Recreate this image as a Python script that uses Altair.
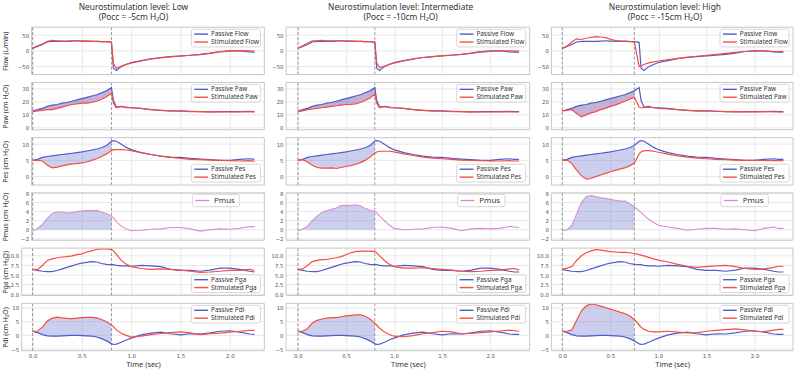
import altair as alt
import pandas as pd

# ---------------------------------------------------------------- data
T = [0.0, 0.05, 0.1, 0.15, 0.2, 0.25, 0.3, 0.35, 0.4, 0.45, 0.5, 0.55, 0.6, 0.65,
     0.7, 0.75, 0.8, 0.82, 0.85, 0.9, 0.95, 1.0, 1.1, 1.2, 1.3, 1.4, 1.5, 1.6, 1.7,
     1.8, 1.9, 2.0, 2.1, 2.2, 2.25, 2.3]

# passive (reference) breath, identical for every stimulation level
FLOW_PASSIVE = [8, 14, 20, 28, 30, 30, 30, 30, 31, 32, 31, 31, 30, 30, 29, 29, 27,
                -55, -62, -50, -43, -37, -31, -25, -21, -18, -16, -14, -11, -7, -2,
                0, 0, -3, -4, -4]
PAW_PASSIVE = [13, 14, 15, 16.5, 17.5, 18, 19, 19.5, 20.5, 21.5, 22.5, 23.5, 24.5,
               25.5, 27, 28.5, 31, 21, 16, 16.5, 15.5, 15.5, 15, 14, 13.5, 13, 13,
               12.8, 12.5, 12.3, 12.5, 12.5, 12.5, 12.8, 12.5, 12.5]
PES_PASSIVE = [5, 5.3, 5.9, 6.2, 6.4, 6.6, 6.8, 7.0, 7.2, 7.4, 7.6, 7.9, 8.2, 8.5,
               8.9, 9.6, 10.9, 11.1, 10.9, 10.0, 9.0, 8.3, 7.4, 6.8, 6.3, 6.0, 5.9,
               5.6, 5.4, 5.2, 5.0, 5.0, 5.3, 5.5, 5.3, 5.3]
PGA_PASSIVE = [6.5, 6.2, 6.0, 5.9, 5.9, 6.2, 6.6, 7.0, 7.4, 7.8, 8.1, 8.3, 8.5, 8.4,
               8.0, 7.8, 7.7, 7.7, 7.5, 7.4, 7.4, 7.3, 7.5, 7.4, 7.2, 6.5, 6.2, 6.2,
               6.0, 6.3, 6.8, 6.8, 6.5, 6.0, 5.8, 5.8]
PDI_PASSIVE = [1.5, 1.0, 0.3, -0.2, -0.3, -0.3, -0.2, -0.1, 0.0, 0.0, -0.1, -0.2,
               -0.3, -0.6, -1.2, -2.0, -3.1, -3.3, -3.2, -2.5, -1.7, -1.0, 0.2, 0.8,
               1.2, 0.6, 0.2, 0.6, 0.5, 0.9, 1.5, 1.7, 1.2, 0.5, 0.4, 0.4]

# stimulated breaths: low / intermediate / high
FLOW_STIM_LOW = [8, 16, 22, 30, 33, 32, 31, 31, 32, 32, 31, 31, 30, 30, 29, 29, 28,
                 -40, -55, -48, -43, -39, -32, -26, -22, -19, -17, -14, -12, -8, -3,
                 -1, 1, 0, -1, -1]
FLOW_STIM_MID = [8, 16, 24, 32, 32, 33, 32, 32, 32, 32, 31, 31, 30, 30, 29, 29, 28,
                 -38, -53, -48, -43, -39, -32, -26, -21, -18, -15, -13, -11, -8, -4,
                 -2, 0, 0, -1, -1]
FLOW_STIM_HIGH = [8, 15, 28, 38, 36, 40, 43, 45, 44, 42, 37, 33, 31, 31, 30, 28, -50,
                  -48, -43, -38, -35, -32, -28, -24, -20, -17, -14, -11, -8, -5, -2,
                  -1, -1, -2, -2, -2]

PAW_STIM_LOW = [12.5, 13, 13.5, 14, 14, 15, 16, 17, 18, 18.5, 19, 19, 19.5, 20.5, 22,
                24, 26.5, 19, 15.5, 16.5, 16, 15.5, 15, 14, 13.5, 13, 12.8, 12.5,
                12.5, 12.3, 12.3, 12.2, 12.3, 12.3, 12.2, 12.2]
PAW_STIM_MID = [12.5, 13, 14, 14.5, 15, 15.5, 16, 16.5, 17, 17.5, 18, 18, 18.5, 19.5,
                21, 23, 26, 19, 15.5, 16.5, 16, 15.5, 15, 14, 13.5, 13, 12.8, 12.5,
                12.5, 12.3, 12.3, 12.2, 12.3, 12.3, 12.2, 12.2]
PAW_STIM_HIGH = [13, 13.5, 14, 11, 8.5, 10, 11.5, 12.5, 14, 15, 16.5, 17.5, 19, 20.5,
                 22, 23.5, 16, 15.5, 15.5, 16, 15.5, 15, 14.5, 14, 13.5, 13, 13, 12.8,
                 12.5, 12.5, 12.3, 12.3, 12.5, 12.3, 12.2, 12.2]

PES_STIM_LOW = [5, 5, 4.8, 3.5, 2.7, 2.9, 3.3, 3.6, 3.9, 4.0, 4.2, 4.5, 5.0, 5.5, 6.2,
                7.0, 8.0, 8.3, 8.3, 8.3, 8.2, 8.0, 7.4, 6.8, 6.3, 5.9, 5.6, 5.3, 5.2,
                5.1, 5.0, 4.9, 4.8, 4.9, 4.7, 4.7]
PES_STIM_MID = [5, 5.2, 4.5, 3.5, 2.8, 2.6, 2.6, 2.7, 2.5, 2.8, 3.1, 3.4, 3.8, 4.3,
                5.0, 6.0, 7.2, 7.6, 7.8, 7.8, 7.8, 7.6, 7.0, 6.5, 6.0, 5.7, 5.5, 5.3,
                5.1, 5.0, 4.9, 4.8, 4.8, 4.9, 4.8, 4.8]
PES_STIM_HIGH = [5, 5.1, 4.0, 2.0, 0.2, -0.8, -0.6, 0.0, 0.5, 1.0, 1.5, 1.9, 2.3, 2.7,
                 3.3, 4.2, 7.0, 7.6, 8.0, 8.0, 7.8, 7.5, 6.9, 6.4, 6.0, 5.7, 5.5, 5.3,
                 5.2, 5.1, 5.0, 5.0, 5.0, 4.9, 4.9, 4.9]

PMUS_LOW = [-0.3, 0.3, 1.2, 2.5, 3.6, 3.9, 3.9, 3.7, 3.8, 4.0, 4.1, 4.2, 4.2, 4.3,
            3.9, 3.5, 3.0, 2.6, 1.8, 0.8, 0.2, -0.2, -0.1, 0.1, 0.2, 0.5, 0.5, 0.2,
            -0.3, 0.0, 0.2, 0.1, 0.3, 0.7, 0.7, 0.7]
PMUS_MID = [-0.2, 0.1, 0.8, 2.0, 3.0, 3.8, 4.2, 4.5, 4.8, 5.3, 5.4, 5.3, 5.5, 5.2,
            4.7, 4.3, 4.0, 3.7, 3.0, 2.0, 1.0, 0.3, 0.0, 0.1, 0.2, 0.5, 0.6, 0.3,
            -0.2, 0.2, 0.3, 0.2, 0.3, 0.7, 0.6, 0.5]
PMUS_HIGH = [-0.2, 0.0, 1.0, 3.5, 6.0, 7.3, 7.5, 7.3, 7.0, 6.9, 6.7, 6.5, 6.3, 6.3,
             5.8, 5.0, 4.2, 3.8, 3.2, 2.3, 1.6, 1.0, 0.6, 0.3, -0.1, 0.1, 0.3, 0.3,
             0.1, 0.2, 0.0, -0.2, 0.3, 0.6, 0.3, 0.3]

PGA_STIM_LOW = [6.5, 6.4, 7.5, 8.8, 9.2, 9.5, 9.7, 9.8, 10.0, 10.3, 10.5, 11.0, 11.3,
                11.7, 11.8, 11.8, 11.7, 11.3, 10.4, 8.8, 7.8, 7.2, 6.7, 6.5, 6.6,
                6.5, 6.3, 6.0, 5.7, 5.8, 6.0, 6.2, 6.2, 6.5, 6.2, 6.2]
PGA_STIM_MID = [6.5, 6.6, 7.5, 8.5, 8.8, 9.0, 9.1, 9.3, 9.5, 9.8, 10.3, 10.8, 11.1,
                11.2, 11.2, 11.2, 11.1, 10.8, 10.0, 8.8, 7.8, 7.2, 6.8, 6.8, 6.9,
                6.7, 6.5, 6.3, 6.0, 5.9, 6.0, 6.2, 6.3, 6.6, 6.7, 6.3]
PGA_STIM_HIGH = [6.5, 6.8, 7.2, 8.8, 10.0, 10.8, 11.3, 11.6, 11.5, 11.3, 11.1, 11.0,
                 10.9, 10.9, 10.8, 10.6, 10.3, 10.2, 10.0, 9.6, 9.2, 8.9, 8.4, 7.8,
                 7.3, 7.0, 7.2, 7.4, 7.5, 7.2, 6.7, 6.5, 6.6, 7.0, 7.3, 7.3]

PDI_STIM_LOW = [1.5, 1.6, 3.0, 5.3, 6.3, 6.7, 6.4, 6.2, 6.1, 6.3, 6.5, 6.6, 6.6, 6.4,
                5.8, 5.0, 3.8, 3.2, 2.0, 0.8, 0.0, -0.6, -0.3, 0.3, 0.7, 1.0, 1.3,
                0.9, 0.3, 0.6, 0.8, 1.2, 1.5, 1.8, 1.8, 1.8]
PDI_STIM_MID = [1.5, 1.5, 2.5, 4.5, 5.5, 6.0, 6.3, 6.5, 6.5, 6.8, 7.1, 7.3, 7.5, 7.5,
                7.0, 6.0, 4.5, 3.8, 2.6, 1.2, 0.3, -0.3, -0.5, -0.1, 0.6, 1.0, 1.5,
                1.3, 0.6, 0.7, 1.0, 1.3, 1.6, 1.9, 1.7, 1.5]
PDI_STIM_HIGH = [1.5, 1.5, 2.0, 5.5, 9.0, 10.8, 11.5, 11.2, 10.7, 10.2, 9.6, 9.1, 8.5,
                 8.0, 7.2, 5.8, 3.8, 3.0, 2.2, 1.5, 1.3, 1.3, 1.5, 1.2, 0.9, 1.0, 1.5,
                 1.8, 2.1, 2.4, 2.0, 1.5, 1.4, 1.9, 2.2, 2.2]

COL_TITLES = [["Neurostimulation level: Low", "(Pocc = -5cm H₂O)"],
              ["Neurostimulation level: Intermediate", "(Pocc = -10cm H₂O)"],
              ["Neurostimulation level: High", "(Pocc = -15cm H₂O)"]]
INSP_END = [0.8, 0.8, 0.75]          # end of inspiration (s)
T_LAST = [2.25, 2.3, 2.3]            # last recorded sample (s)
X_TICKS = [0.0, 0.5, 1.0, 1.5, 2.0]

ROW_KEYS = ["Flow", "Paw", "Pes", "Pmus", "Pga", "Pdi"]
Y_TITLES = ["Flow (L/min)", "Paw (cm  H₂O)", "Pes (cm  H₂O)", "Pmus (cm  H₂O)",
            "Pga (cm  H₂O)", "Pdi (cm  H₂O)"]
Y_DOMAINS = [[-75, 75], [-1.5, 35], [-2.6, 12], [-2.3, 8.1], [-0.3, 12], [-5.6, 11.7]]
Y_TICKS = [[-50, 0, 50], [0, 10, 20, 30], [0, 5, 10], [-2, 0, 2, 4, 6, 8],
           [0, 2.5, 5, 7.5, 10], [-5, 0, 5, 10]]
Y_FORMATS = ["d", "d", "d", "d", ".1f", "d"]

PASSIVE = {"Flow": FLOW_PASSIVE, "Paw": PAW_PASSIVE, "Pes": PES_PASSIVE,
           "Pga": PGA_PASSIVE, "Pdi": PDI_PASSIVE}
STIM = [
    {"Flow": FLOW_STIM_LOW, "Paw": PAW_STIM_LOW, "Pes": PES_STIM_LOW,
     "Pmus": PMUS_LOW, "Pga": PGA_STIM_LOW, "Pdi": PDI_STIM_LOW},
    {"Flow": FLOW_STIM_MID, "Paw": PAW_STIM_MID, "Pes": PES_STIM_MID,
     "Pmus": PMUS_MID, "Pga": PGA_STIM_MID, "Pdi": PDI_STIM_MID},
    {"Flow": FLOW_STIM_HIGH, "Paw": PAW_STIM_HIGH, "Pes": PES_STIM_HIGH,
     "Pmus": PMUS_HIGH, "Pga": PGA_STIM_HIGH, "Pdi": PDI_STIM_HIGH},
]

# ---------------------------------------------------------------- style / layout
BLUE = "#4a5cce"
RED = "#fb4a3f"
PINK = "#d98bd2"
FILL = "#6f79cc"
FILL_PAW = "#7a52a4"
GRID = "#e2e2e2"
FRAME = "#c6c6c6"
DASH = "#8c8c8c"
TXT = "#333333"
TICK_TXT = "#555555"

PANEL_W = [246, 247, 245]
PANEL_H = 48
X_DOMAINS = [[-0.11, 2.35], [-0.123, 2.41], [-0.113, 2.40]]
LEGEND_SPOT = ["top", "top", "bottom", "pmus", "bottom", "top"]
FILL_KIND = [None, "between", "between", "zero", None, "between"]

ONE = pd.DataFrame({"k": [0]})


def legend_layers(entries, spot, W, H):
    if spot == "pmus":
        bw, bh, fs = 48, 12.5, 8
        bx, by = W - 25 - bw, 1.5
        rows = [by + bh / 2]
        tx = bx + 22
    else:
        bw, bh, fs = 70, 18, 6.5
        bx = W - 4 - bw
        by = 2 if spot == "top" else H - 3 - bh
        rows = [by + 5, by + 13]
        tx = bx + 20
    out = [alt.Chart(ONE).mark_rect(fill="white", fillOpacity=0.85, stroke="#cccccc",
                                    strokeWidth=0.8, cornerRadius=2).encode(
        x=alt.value(bx), x2=alt.value(bx + bw), y=alt.value(by), y2=alt.value(by + bh))]
    for (label, color), ry in zip(entries, rows):
        out.append(alt.Chart(ONE).mark_rule(color=color, strokeWidth=1.4).encode(
            x=alt.value(bx + 3), x2=alt.value(bx + 17), y=alt.value(ry)))
        out.append(alt.Chart(ONE).mark_text(align="left", baseline="middle", font="Noto Sans",
                                            fontSize=fs, color=TXT).encode(
            x=alt.value(tx), y=alt.value(ry), text=alt.value(label)))
    return out


def panel(ci, ri):
    key = ROW_KEYS[ri]
    W, H = PANEL_W[ci], PANEL_H
    inset = 10 if (ci == 0 and ri < 4) else 0
    bottom = ri == len(ROW_KEYS) - 1

    df = pd.DataFrame({"t": T})
    if key == "Pmus":
        df["b"] = STIM[ci][key]
    else:
        df["a"] = PASSIVE[key]
        df["b"] = STIM[ci][key]
    df = df[df["t"] <= T_LAST[ci] + 1e-9]
    insp = df[df["t"] <= INSP_END[ci] + 1e-9]

    xs = alt.Scale(domain=X_DOMAINS[ci], nice=False, zero=False)
    ys = alt.Scale(domain=Y_DOMAINS[ri], nice=False, zero=False)

    xaxis_kw = dict(values=X_TICKS, format=".1f", grid=True, gridColor=GRID, gridWidth=0.8,
                    domain=False, ticks=False, labels=bottom, labelFont="DejaVu Sans",
                    labelFontSize=5.5, labelColor=TICK_TXT, labelPadding=3)
    if bottom:
        xaxis_kw.update(title="Time (sec)", titleFont="Noto Sans", titleFontSize=7.5,
                        titleFontWeight="normal", titleColor=TXT, titlePadding=2)
    else:
        xaxis_kw.update(title=None)
    xaxis = alt.Axis(**xaxis_kw)

    yaxis_kw = dict(values=Y_TICKS[ri], format=Y_FORMATS[ri], grid=False, domain=False,
                    ticks=False, labelFont="DejaVu Sans", labelFontSize=5.5,
                    labelColor=TICK_TXT, labelPadding=3, offset=-inset)
    if ci == 0:
        yaxis_kw.update(title=Y_TITLES[ri], titleFont="Noto Sans", titleFontSize=7,
                        titleFontWeight="normal", titleColor=TXT, titleAngle=270,
                        titleAlign="center", titleBaseline="middle",
                        titleX=6 - 22 - inset, titleY=H / 2)
    else:
        yaxis_kw.update(title=None)
    yaxis = alt.Axis(**yaxis_kw)

    def X(f):
        return alt.X(f, type="quantitative", scale=xs, axis=xaxis)

    def Y(f):
        return alt.Y(f, type="quantitative", scale=ys, axis=yaxis)

    layers = []
    # horizontal grid lines at the y ticks
    layers.append(alt.Chart(pd.DataFrame({"v": Y_TICKS[ri]})).mark_rule(
        color=GRID, strokeWidth=0.8).encode(y=Y("v"), x=alt.value(inset), x2=alt.value(W)))

    # shaded work area during inspiration
    kind = FILL_KIND[ri]
    if kind == "between":
        fc, fo = (FILL_PAW, 0.45) if key == "Paw" else (FILL, 0.36)
        layers.append(alt.Chart(insp).mark_area(color=fc, opacity=fo).encode(
            x=X("t"), y=Y("a"), y2="b"))
    elif kind == "zero":
        layers.append(alt.Chart(insp).mark_area(color=FILL, opacity=0.36).encode(
            x=X("t"), y=Y("b"), y2=alt.datum(0)))

    # start / end of inspiration
    layers.append(alt.Chart(pd.DataFrame({"v": [0.0, INSP_END[ci]]})).mark_rule(
        color=DASH, strokeDash=[3, 2], strokeWidth=0.9).encode(
        x=X("v"), y=alt.value(0), y2=alt.value(H)))

    if key == "Pmus":
        layers.append(alt.Chart(df).mark_line(color=PINK, strokeWidth=1.1).encode(
            x=X("t"), y=Y("b")))
        entries = [("Pmus", PINK)]
    else:
        layers.append(alt.Chart(df).mark_line(color=BLUE, strokeWidth=1.2).encode(
            x=X("t"), y=Y("a")))
        layers.append(alt.Chart(df).mark_line(color=RED, strokeWidth=1.2).encode(
            x=X("t"), y=Y("b")))
        entries = [("Passive " + key, BLUE), ("Stimulated " + key, RED)]

    # axes frame
    layers.append(alt.Chart(ONE).mark_rect(fill="transparent", stroke=FRAME,
                                           strokeWidth=1).encode(
        x=alt.value(inset), x2=alt.value(W), y=alt.value(0), y2=alt.value(H)))

    layers += legend_layers(entries, LEGEND_SPOT[ri], W, H)
    return alt.layer(*layers).properties(width=W, height=H)


columns = []
for ci in range(3):
    col = alt.vconcat(*[panel(ci, ri) for ri in range(len(ROW_KEYS))], spacing=8,
                      bounds="flush",
                      title=alt.TitleParams(text=COL_TITLES[ci], font="Noto Sans",
                                            fontSize=8.5, fontWeight="normal", color=TXT,
                                            anchor="middle", lineHeight=10.5, offset=5))
    columns.append(col.resolve_scale(x="independent", y="independent"))

chart = alt.hconcat(*columns, spacing=5).resolve_scale(
    x="independent", y="independent").configure_view(stroke=None).properties(
    padding={"left": 2, "top": 0, "right": 0, "bottom": 0}, background="white")

chart.save("out.html", embed_options={"renderer": "svg", "actions": False})
